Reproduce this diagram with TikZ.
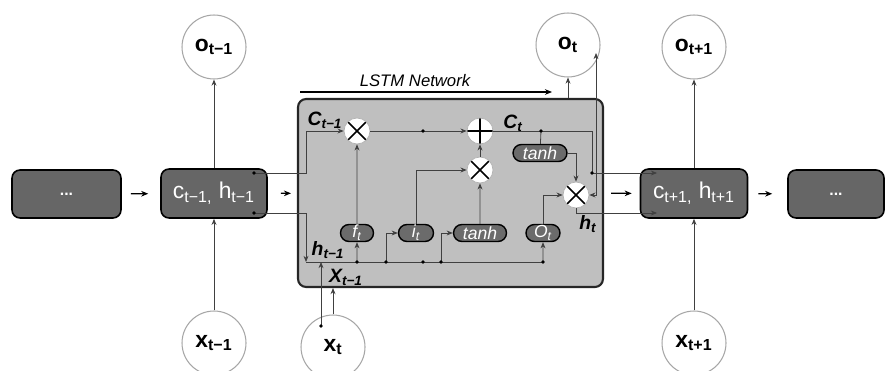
\documentclass[tikz,border=0pt]{standalone}
\usepackage{fontspec}
\setmainfont{Liberation Sans}
\usetikzlibrary{arrows.meta,shapes.misc}
\newcommand{\sbs}[1]{\textsubscript{#1}}

\begin{document}
\begin{tikzpicture}[x=0.02cm,y=-0.02cm,
  wire/.style={draw=black!75,line width=0.45pt},
  arr/.style={wire,-{Stealth[length=3.5pt,width=2.8pt]}},
  dbl/.style={wire,{Stealth[length=3.5pt,width=2.8pt]}-{Stealth[length=3.5pt,width=2.8pt]}},
  link/.style={draw=black,line width=0.7pt,-{Stealth[length=4pt,width=3.2pt]}},
  darkbox/.style={draw=black,line width=0.9pt,fill=black!60,rounded corners=0.16cm,text=white,inner sep=0pt,font=\fontsize{13}{15}\selectfont},
  io/.style={circle,draw=black!35,line width=0.6pt,fill=white,minimum size=1.28cm,inner sep=0pt,font=\fontsize{13}{15}\selectfont\bfseries},
  gate/.style={rounded rectangle,draw=black,line width=0.8pt,fill=black!58,text=white,minimum height=0.34cm,inner sep=0pt,font=\fontsize{10}{12}\selectfont\itshape},
  op/.style={circle,fill=white,draw=black!30,minimum size=0.52cm,inner sep=0pt},
  mul/.style={op,path picture={\draw[black,line width=0.9pt] (path picture bounding box.north west) -- (path picture bounding box.south east) (path picture bounding box.north east) -- (path picture bounding box.south west);}},
  add/.style={op,path picture={\draw[black,line width=0.9pt] (path picture bounding box.north) -- (path picture bounding box.south) (path picture bounding box.west) -- (path picture bounding box.east);}},
  lbl/.style={inner sep=0pt,font=\fontsize{11}{13}\selectfont\bfseries\itshape}]
\useasboundingbox (0,0) rectangle (885,371);

% cells along the sequence
\node[darkbox,minimum width=2.18cm,minimum height=0.96cm] (dotsL) at (66.5,194) {\textbf{\small ...}};
\node[darkbox,minimum width=2.12cm,minimum height=0.98cm] (cPrev) at (214,193.5) {c\sbs{t−1,} h\sbs{t−1}};
\node[darkbox,minimum width=2.14cm,minimum height=0.98cm] (cNext) at (694,193.5) {c\sbs{t+1,} h\sbs{t+1}};
\node[darkbox,minimum width=1.92cm,minimum height=0.96cm] (dotsR) at (836,194) {\textbf{\small ...}};

% the LSTM cell
\node[draw=black!85,line width=1.2pt,fill=black!25,rounded corners=0.16cm,minimum width=6.1cm,minimum height=3.76cm] (lstm) at (450.5,193) {};
\node[font=\fontsize{9.5}{11}\selectfont\itshape] (title) at (415,81) {LSTM Network};
\coordinate (netA) at (300,92);
\coordinate (netB) at (552,92);

% inputs and outputs
\node[io] (oPrev) at (214,47) {o\sbs{t−1}};
\node[io] (xPrev) at (214,343) {x\sbs{t−1}};
\node[io] (oT) at (568,45) {o\sbs{t}};
\node[io] (xT) at (333,347) {x\sbs{t}};
\node[io] (oNext) at (694,47) {o\sbs{t+1}};
\node[io] (xNext) at (694,343) {x\sbs{t+1}};

% gates
\node[mul] (fx) at (357,131) {};
\node[add] (plus) at (480,131) {};
\node[mul] (ix) at (480,170) {};
\node[mul] (ox) at (576,195) {};
\node[gate,minimum width=0.66cm] (ft) at (357,233) {f\sbs{t}};
\node[gate,minimum width=0.70cm] (it) at (416,233) {i\sbs{t}};
\node[gate,minimum width=1.06cm] (tanhA) at (480,233) {tanh};
\node[gate,minimum width=1.08cm] (tanhB) at (540,153) {tanh};
\node[gate,minimum width=0.68cm] (otg) at (543,233) {O\sbs{t}};

% labels
\node[lbl] (lCp) at (325,120) {C\sbs{t−1}};
\node[lbl] (lC) at (513,123) {C\sbs{t}};
\node[lbl] (lht) at (588,224) {h\sbs{t}};
\node[lbl] (lhp) at (328,250) {h\sbs{t−1}};
\node[lbl] (lxp) at (346,277) {X\sbs{t−1}};

% junctions
\coordinate (cPrevC) at (254,173);
\coordinate (cPrevH) at (254,213);
\coordinate (cIn) at (306,173);
\coordinate (hIn) at (306,213);
\coordinate (busL) at (306,262);
\coordinate (busR) at (543,262);
\coordinate (fBr) at (357,262);
\coordinate (iBr) at (386,262);
\coordinate (busM) at (423,262);
\coordinate (gBr) at (441,262);
\coordinate (xtDot) at (321,326);
\coordinate (cMid) at (423,131);
\coordinate (cTap) at (541,131);
\coordinate (cTurn) at (592,131);
\coordinate (cOut) at (592,173);
\coordinate (cNextC) at (657,173);
\coordinate (cNextH) at (657,213);
\coordinate (oTin) at (596,53);

% sequence links
\draw[link,shorten <=0.18cm,shorten >=0.24cm] (dotsL) -- (cPrev);
\draw[link,shorten <=0.26cm,shorten >=0.12cm] (cPrev) -- (lstm);
\draw[link,shorten <=0.14cm,shorten >=0.16cm] (lstm) -- (cNext);
\draw[link,shorten <=0.2cm,shorten >=0.3cm] (cNext) -- (dotsR);
\draw[arr] (xPrev) -- (cPrev);
\draw[arr] (cPrev) -- (oPrev);
\draw[arr] (xNext) -- (cNext);
\draw[arr] (cNext) -- (oNext);
\draw[link] (netA) -- (netB);

% inside the cell
\draw[arr] (cPrevC) -- (cIn) |- (fx);
\draw[arr] (cPrevH) -- (hIn) -- (busL);
\draw[wire] (busL) -- (busR);
\draw[arr] (xtDot) -- (xtDot |- busL);
\draw[arr] (xT.north) -- (xT.north |- lstm.south);
\draw[arr] (fBr) -- (ft);
\draw[arr] (ft) -- (fx);
\draw[arr] (iBr) |- (it);
\draw[arr] (it) |- (ix);
\draw[arr] (gBr) |- (tanhA);
\draw[arr] (tanhA) -- (ix);
\draw[arr] (ix) -- (plus);
\draw[arr] (fx) -- (plus);
\draw[arr] (plus) -- (cTurn) -- (cOut) -- (cNextC);
\draw[wire] (cTap) -- (tanhB);
\draw[arr] (tanhB) -| (ox);
\draw[arr] (busR) -- (otg);
\draw[arr] (otg) |- (ox);
\draw[arr] (ox) |- (cNextH);
\draw[dbl] (ox) -| (oTin);
\draw[arr] (oT |- lstm.north) -- (oT);

\foreach \p in {cPrevC,cPrevH,fBr,iBr,busM,gBr,busR,xtDot,cMid,cTap,cOut}
  \fill[black] (\p) circle (1.1pt);
\end{tikzpicture}
\end{document}
